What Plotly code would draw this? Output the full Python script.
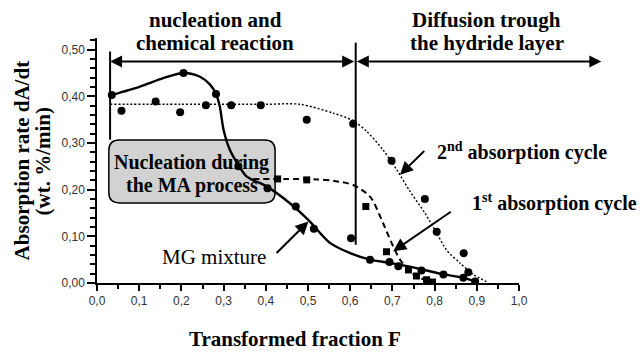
import plotly.graph_objects as go

# ---------------- data ----------------
# MG mixture (solid curve + circles)
mg_curve_F = [0.035, 0.102, 0.157, 0.205, 0.244, 0.268, 0.282, 0.291, 0.300, 0.315, 0.335, 0.355,
              0.402, 0.457, 0.500, 0.552, 0.600, 0.647, 0.694, 0.757, 0.813, 0.868, 0.900]
mg_curve_v = [0.403, 0.421, 0.439, 0.450, 0.442, 0.425, 0.405, 0.378, 0.328, 0.285, 0.253, 0.228,
              0.207, 0.171, 0.136, 0.086, 0.064, 0.050, 0.043, 0.032, 0.020, 0.011, 0.003]
mg_pts_F = [0.035, 0.205, 0.282, 0.335, 0.404, 0.471, 0.514, 0.602, 0.647, 0.693, 0.714, 0.769,
            0.821, 0.868, 0.896]
mg_pts_v = [0.403, 0.450, 0.405, 0.250, 0.203, 0.164, 0.116, 0.096, 0.050, 0.045, 0.036, 0.027,
            0.018, 0.011, 0.003]

# 1st absorption cycle (dashed curve + squares)
c1_curve_F = [0.370, 0.450, 0.520, 0.560, 0.607, 0.647, 0.678, 0.698, 0.718, 0.738, 0.757, 0.780, 0.797]
c1_curve_v = [0.223, 0.223, 0.222, 0.219, 0.210, 0.185, 0.128, 0.086, 0.050, 0.028, 0.014, 0.006, 0.000]
c1_pts_F = [0.428, 0.497, 0.637, 0.686, 0.738, 0.757, 0.781, 0.795]
c1_pts_v = [0.223, 0.221, 0.164, 0.067, 0.028, 0.015, 0.007, 0.002]

# 2nd absorption cycle (dotted curve + circles)
c2_curve_F = [0.031, 0.200, 0.400, 0.481, 0.560, 0.607, 0.639, 0.678, 0.710, 0.742, 0.777, 0.805,
              0.828, 0.860, 0.892, 0.923]
c2_curve_v = [0.383, 0.383, 0.383, 0.383, 0.364, 0.348, 0.325, 0.285, 0.243, 0.196, 0.150, 0.107,
              0.071, 0.043, 0.018, 0.003]
c2_pts_F = [0.058, 0.139, 0.197, 0.258, 0.318, 0.388, 0.497, 0.607, 0.698, 0.777, 0.805, 0.869, 0.880]
c2_pts_v = [0.369, 0.389, 0.366, 0.381, 0.381, 0.381, 0.350, 0.341, 0.262, 0.180, 0.110, 0.064, 0.023]

x_tickvals = [0.0, 0.1, 0.2, 0.3, 0.4, 0.5, 0.6, 0.7, 0.8, 0.9, 1.0]
x_ticktext = ["0,0", "0,1", "0,2", "0,3", "0,4", "0,5", "0,6", "0,7", "0,8", "0,9", "1,0"]
y_tickvals = [0.0, 0.1, 0.2, 0.3, 0.4, 0.5]
y_ticktext = ["0,00", "0,10", "0,20", "0,30", "0,40", "0,50"]

Y_MAX = 0.525
SERIF = "Liberation Serif, Times New Roman, serif"
SANS = "Liberation Sans, Arial, sans-serif"

fig = go.Figure()

# curves
fig.add_trace(go.Scatter(x=c2_curve_F, y=c2_curve_v, mode="lines",
                         line=dict(color="black", width=1.4, dash="2px,2px", shape="spline", smoothing=0.8),
                         hoverinfo="skip"))
fig.add_trace(go.Scatter(x=c1_curve_F, y=c1_curve_v, mode="lines",
                         line=dict(color="black", width=2, dash="6px,4px", shape="spline", smoothing=0.8),
                         hoverinfo="skip"))
fig.add_trace(go.Scatter(x=mg_curve_F, y=mg_curve_v, mode="lines",
                         line=dict(color="black", width=2.4, shape="spline", smoothing=0.8),
                         hoverinfo="skip"))
# points
fig.add_trace(go.Scatter(x=c2_pts_F, y=c2_pts_v, mode="markers",
                         marker=dict(symbol="circle", size=8, color="black")))
fig.add_trace(go.Scatter(x=c1_pts_F, y=c1_pts_v, mode="markers",
                         marker=dict(symbol="square", size=7, color="black")))
fig.add_trace(go.Scatter(x=mg_pts_F, y=mg_pts_v, mode="markers",
                         marker=dict(symbol="circle", size=8, color="black")))

# rounded box (paper coordinates)
bx0, bx1, by0, by1 = 0.028, 0.422, 0.327, 0.584
rx, ry = 0.025, 0.043
box_path = (f"M {bx0+rx},{by0} L {bx1-rx},{by0} Q {bx1},{by0} {bx1},{by0+ry} "
            f"L {bx1},{by1-ry} Q {bx1},{by1} {bx1-rx},{by1} "
            f"L {bx0+rx},{by1} Q {bx0},{by1} {bx0},{by1-ry} "
            f"L {bx0},{by0+ry} Q {bx0},{by0} {bx0+rx},{by0} Z")
shapes = [
    dict(type="path", xref="paper", yref="paper", path=box_path,
         fillcolor="#d2d2d2", line=dict(color="black", width=1.5), layer="below"),
    dict(type="line", xref="x", yref="y", x0=0.031, x1=0.031, y0=0.307, y1=0.496,
         line=dict(color="black", width=2)),
    dict(type="line", xref="x", yref="y", x0=0.613, x1=0.613, y0=0.082, y1=0.515,
         line=dict(color="black", width=2)),
]


def label(x, y, text, size=20, angle=0):
    return dict(xref="paper", yref="paper", x=x, y=y, text=text, textangle=angle,
                showarrow=False, font=dict(family=SERIF, size=size, color="black"),
                xanchor="center", yanchor="middle")


ann = []
# region arrows
ann.append(dict(xref="x", yref="y", axref="x", ayref="y", x=0.031, y=0.4745, ax=0.613, ay=0.4745,
                text="", showarrow=True, arrowhead=2, arrowside="end+start", arrowsize=1.2,
                arrowwidth=2, arrowcolor="black", standoff=0, startstandoff=0))
ann.append(dict(xref="paper", yref="paper", x=1.195, y=0.4745 / Y_MAX, ax=-246, ay=0,
                text="", showarrow=True, arrowhead=2, arrowside="end+start", arrowsize=1.2,
                arrowwidth=2, arrowcolor="black", standoff=0, startstandoff=0))
# region labels
ann.append(label(0.28, 1.073, "<b>nucleation and</b>", 21))
ann.append(label(0.28, 0.980, "<b>chemical reaction</b>", 21))
ann.append(label(0.924, 1.073, "<b>Diffusion trough</b>", 21))
ann.append(label(0.924, 0.980, "<b>the hydride layer</b>", 21))
# box text
ann.append(label(0.225, 0.490, "<b>Nucleation during</b>", 20))
ann.append(label(0.225, 0.397, "<b>the MA process</b>", 20))
# series labels
ann.append(label(1.007, 0.535, "<b>2<sup>nd</sup> absorption cycle</b>", 20))
ann.append(label(1.085, 0.327, "<b>1<sup>st</sup> absorption cycle</b>", 20))
ann.append(label(0.277, 0.107, "MG mixture", 21))
# pointer arrows
for (tx, ty, sx, sy) in [(0.718, 0.232, 0.779, 0.286), (0.702, 0.068, 0.842, 0.155), (0.501, 0.132, 0.422, 0.061)]:
    ann.append(dict(xref="x", yref="y", axref="x", ayref="y", x=tx, y=ty, ax=sx, ay=sy, text="",
                    showarrow=True, arrowhead=2, arrowsize=1.3, arrowwidth=2, arrowcolor="black", standoff=0))
# axis titles
ann.append(label(-0.178, 0.5, "<b>Absorption rate dA/dt</b>", 21, -90))
ann.append(label(-0.128, 0.5, "<b>(wt. %/min)</b>", 21, -90))
ann.append(label(0.469, -0.229, "<b>Transformed fraction F</b>", 21))

fig.update_layout(
    width=640, height=352,
    margin=dict(l=97, r=121, t=38, b=69),
    paper_bgcolor="white", plot_bgcolor="white",
    showlegend=False,
    shapes=shapes, annotations=ann,
    xaxis=dict(range=[0, 1], tickvals=x_tickvals, ticktext=x_ticktext, ticks="outside", ticklen=6,
               tickwidth=1.5, tickcolor="black", showline=True, linecolor="black", linewidth=1.5,
               showgrid=False, zeroline=False, tickfont=dict(family=SANS, size=12, color="#333"),
               minor=dict(dtick=0.05, ticks="outside", ticklen=4, tickwidth=1.5, tickcolor="black", showgrid=False)),
    yaxis=dict(range=[0, Y_MAX], tickvals=y_tickvals, ticktext=y_ticktext, ticks="outside", ticklen=8,
               tickwidth=1.5, tickcolor="black", showline=True, linecolor="black", linewidth=1.5,
               showgrid=False, zeroline=False, tickfont=dict(family=SANS, size=12, color="#333"),
               minor=dict(dtick=0.02, tick0=0, ticks="outside", ticklen=5, tickwidth=1.5, tickcolor="black", showgrid=False)),
)

fig.write_html("out.html")
